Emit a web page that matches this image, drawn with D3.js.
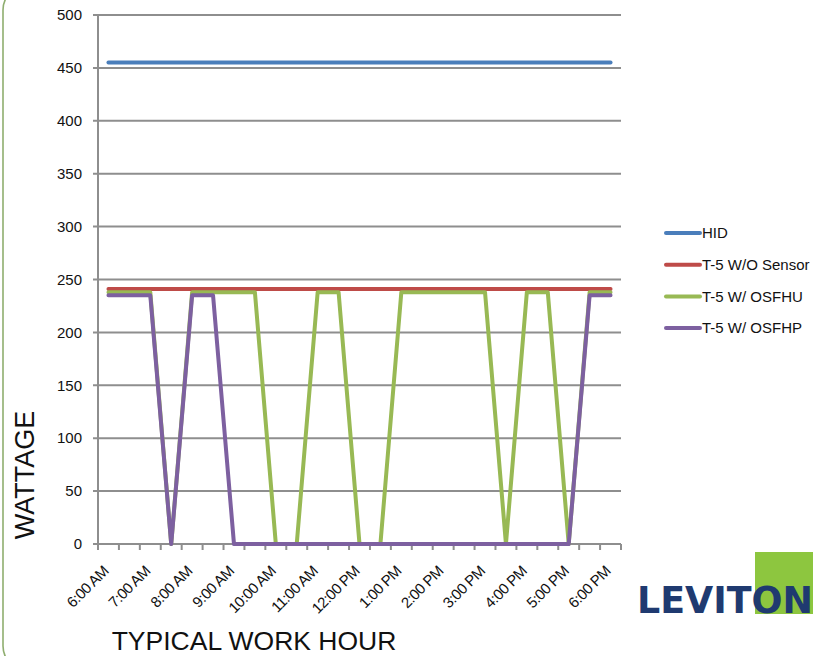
<!DOCTYPE html>
<html>
<head>
<meta charset="utf-8">
<script src="https://cdn.jsdelivr.net/npm/d3@7"></script>
<style>
  body { margin: 0; background: #fff; }
  svg { display: block; font-family: "Liberation Sans", Arial, sans-serif; }
</style>
</head>
<body>
<div id="chart"></div>
<script>
// half-hour slots, 6:00 AM .. 6:00 PM
var slots = ["6:00 AM","6:30 AM","7:00 AM","7:30 AM","8:00 AM","8:30 AM","9:00 AM","9:30 AM",
  "10:00 AM","10:30 AM","11:00 AM","11:30 AM","12:00 PM","12:30 PM","1:00 PM","1:30 PM",
  "2:00 PM","2:30 PM","3:00 PM","3:30 PM","4:00 PM","4:30 PM","5:00 PM","5:30 PM","6:00 PM"];
var yTicks = [0, 50, 100, 150, 200, 250, 300, 350, 400, 450, 500];
var seriesNames = ["HID", "T-5 W/O Sensor", "T-5 W/ OSFHU", "T-5 W/ OSFHP"];
var hid    = [455,455,455,455,455,455,455,455,455,455,455,455,455,455,455,455,455,455,455,455,455,455,455,455,455];
var t5     = [241,241,241,241,241,241,241,241,241,241,241,241,241,241,241,241,241,241,241,241,241,241,241,241,241];
var osfhu  = [238,238,238,0,238,238,238,238,0,0,238,238,0,0,238,238,238,238,238,0,238,238,0,238,238];
var osfhp  = [235,235,235,0,235,235,0,0,0,0,0,0,0,0,0,0,0,0,0,0,0,0,0,235,235];
var colors = ["#4a7ebb", "#be4b48", "#98b954", "#7d60a0"];

(function() {
    var W = 821, H = 656;
    var svg = d3.select("#chart").append("svg")
        .attr("width", W)
        .attr("height", H);

    // rounded green frame
    svg.append("rect")
        .attr("x", 3).attr("y", -14)
        .attr("width", 1000).attr("height", 684)
        .attr("rx", 24).attr("ry", 24)
        .attr("fill", "none")
        .attr("stroke", "#8fae6f")
        .attr("stroke-width", 1.6);

    var left = 98, right = 621, top = 15, bottom = 544;
    var grey = "#8e8e8e";

    var x = d3.scaleBand().domain(slots).range([left, right]).padding(0);
    var y = d3.scaleLinear().domain([0, 500]).range([bottom, top]);
    var cx = function(d, i) { return x(slots[i]) + x.bandwidth() / 2; };

    // horizontal grid + y labels
    svg.append("g").selectAll("line").data(yTicks).join("line")
        .attr("x1", left - 5).attr("x2", right)
        .attr("y1", function(d) { return y(d); })
        .attr("y2", function(d) { return y(d); })
        .attr("stroke", grey).attr("stroke-width", 2);

    svg.append("g").selectAll("text").data(yTicks).join("text")
        .attr("x", 82)
        .attr("y", function(d) { return y(d); })
        .attr("dy", "0.35em")
        .attr("text-anchor", "end")
        .attr("font-size", 15)
        .attr("fill", "#111")
        .text(function(d) { return d; });

    // y axis line
    svg.append("line")
        .attr("x1", left).attr("x2", left)
        .attr("y1", top).attr("y2", bottom + 5)
        .attr("stroke", grey).attr("stroke-width", 2);

    // x tick marks between categories
    var edges = slots.map(function(s) { return x(s); }).concat([right]);
    svg.append("g").selectAll("line").data(edges).join("line")
        .attr("x1", function(d) { return d; }).attr("x2", function(d) { return d; })
        .attr("y1", bottom).attr("y2", bottom + 6)
        .attr("stroke", grey).attr("stroke-width", 2);

    // x labels every hour
    svg.append("g").selectAll("text")
        .data(slots.filter(function(s, i) { return i % 2 === 0; }))
        .join("text")
        .attr("transform", function(d) {
            return "translate(" + (x(d) + x.bandwidth() / 2 + 1) + "," + 572 + ") rotate(-45)";
        })
        .attr("text-anchor", "end")
        .attr("font-size", 15)
        .attr("letter-spacing", -0.5)
        .attr("fill", "#111")
        .text(function(d) { return d; });

    // series
    var line = d3.line()
        .x(cx)
        .y(function(d) { return y(d); });

    [hid, t5, osfhu, osfhp].forEach(function(vals, k) {
        svg.append("path")
            .attr("d", line(vals))
            .attr("fill", "none")
            .attr("stroke", colors[k])
            .attr("stroke-width", 4)
            .attr("stroke-linejoin", "round")
            .attr("stroke-linecap", "round");
    });

    // legend
    var lg = svg.append("g").selectAll("g").data(seriesNames).join("g")
        .attr("transform", function(d, i) { return "translate(666," + (233 + i * 31.7) + ")"; });
    lg.append("line")
        .attr("x1", 0).attr("x2", 34)
        .attr("stroke", function(d, i) { return colors[i]; })
        .attr("stroke-width", 4)
        .attr("stroke-linecap", "round");
    lg.append("text")
        .attr("x", 36).attr("dy", "0.35em")
        .attr("font-size", 15)
        .attr("fill", "#111")
        .text(function(d) { return d; });

    // axis titles
    svg.append("text")
        .attr("transform", "translate(34,475) rotate(-90)")
        .attr("text-anchor", "middle")
        .attr("font-size", 27)
        .attr("fill", "#111")
        .text("WATTAGE");
    svg.append("text")
        .attr("x", 254).attr("y", 650)
        .attr("text-anchor", "middle")
        .attr("font-size", 26.5)
        .attr("fill", "#111")
        .text("TYPICAL WORK HOUR");

    // logo
    svg.append("rect")
        .attr("x", 755).attr("y", 552)
        .attr("width", 58).attr("height", 62)
        .attr("fill", "#8dc63f");
    svg.append("text")
        .attr("x", 637).attr("y", 613)
        .attr("font-size", 38)
        .attr("font-weight", "bold")
        .attr("font-family", "'DejaVu Sans', sans-serif")
        .attr("textLength", 176)
        .attr("lengthAdjust", "spacingAndGlyphs")
        .attr("fill", "#1f3a70")
        .text("LEVITON");
})();
</script>
</body>
</html>
